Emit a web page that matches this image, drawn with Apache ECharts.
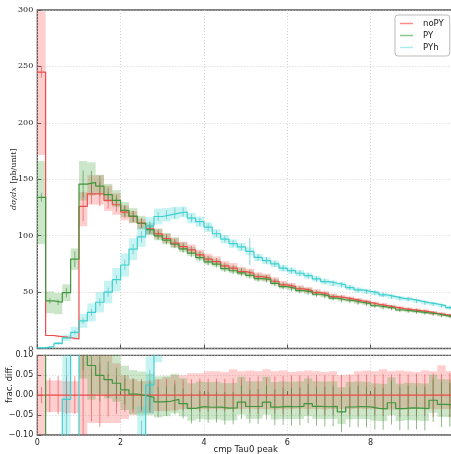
<!DOCTYPE html>
<html>
<head>
<meta charset="utf-8">
<script src="https://cdn.jsdelivr.net/npm/echarts@6/dist/echarts.min.js"></script>
<style>
  html, body { margin: 0; padding: 0; background: #fff; }
  #chart { width: 451px; height: 454px; }
</style>
</head>
<body>
<div id="chart"></div>
<script>
// Histogram of cmp Tau0 peak, 50 bins of width 0.2 starting at 0
const BIN_WIDTH = 0.2;

// Bin contents (pb/unit)
const noPY = [245, 11.5, 10.5, 9.6, 8.4, 125.9, 137.1, 137.1, 131.2, 127.4,
  120.9, 117.0, 111.1, 106.0, 101.6, 97.5, 93.4, 90.2, 87.4, 83.0,
  79.2, 77.0, 73.2, 71.2, 68.2, 66.7, 63.7, 62.3, 59.6, 56.4,
  54.9, 52.8, 51.3, 49.5, 48.1, 46.0, 45.1, 43.7, 42.2, 40.9,
  39.2, 38.0, 36.6, 35.3, 34.4, 33.6, 32.7, 31.2, 30.0, 29.1];
const PY = [134, 42.2, 41.0, 49.5, 79.2, 145.7, 147.3, 143.9, 136.3, 131.2,
  122.5, 117.3, 111.0, 105.4, 99.9, 96.0, 92.4, 88.3, 84.5, 80.6,
  76.8, 74.7, 70.8, 68.9, 67.0, 64.8, 61.9, 61.2, 57.8, 54.8,
  53.3, 51.3, 50.2, 48.1, 46.7, 44.7, 43.2, 42.4, 41.0, 39.7,
  37.9, 36.7, 35.9, 34.1, 33.3, 32.5, 31.6, 30.8, 29.3, 28.4];
const PYh = [0.5, 1.6, 4.6, 9.5, 14.3, 24.4, 32.0, 41.0, 50.0, 61.0,
  74.0, 88.0, 99.0, 108.7, 117.0, 118.5, 120.0, 121.0, 115.5, 112.4,
  107.6, 101.7, 97.0, 93.0, 90.0, 86.0, 80.7, 77.8, 75.0, 71.2,
  69.0, 66.7, 64.6, 61.7, 59.3, 57.8, 56.4, 54.0, 51.9, 50.6,
  49.3, 47.5, 46.0, 44.5, 43.7, 42.2, 40.7, 39.5, 38.0, 36.2];

// Relative systematic band (up / down) per bin
const noPYUp = [0.22, 0.037, 0.037, 0.035, 0.035, 0.10, 0.12, 0.12, 0.10, 0.08,
  0.05, 0.04, 0.035, 0.035, 0.04, 0.045, 0.05, 0.05, 0.055, 0.055,
  0.06, 0.06, 0.058, 0.065, 0.06, 0.062, 0.06, 0.065, 0.06, 0.062,
  0.058, 0.06, 0.062, 0.06, 0.058, 0.06, 0.05, 0.052, 0.06, 0.062,
  0.06, 0.065, 0.06, 0.062, 0.06, 0.058, 0.062, 0.06, 0.075, 0.06];
const noPYDn = [0.30, 0.042, 0.042, 0.045, 0.045, 0.14, 0.07, 0.07, 0.07, 0.07,
  0.06, 0.05, 0.045, 0.045, 0.04, 0.04, 0.038, 0.035, 0.035, 0.035,
  0.035, 0.035, 0.036, 0.035, 0.035, 0.034, 0.035, 0.035, 0.036, 0.035,
  0.035, 0.034, 0.035, 0.035, 0.036, 0.035, 0.035, 0.035, 0.034, 0.035,
  0.035, 0.035, 0.036, 0.035, 0.035, 0.034, 0.035, 0.035, 0.035, 0.035];
const PYUp = [0.24, 0.20, 0.20, 0.15, 0.12, 0.14, 0.12, 0.07, 0.07, 0.07,
  0.06, 0.06, 0.06, 0.06, 0.065, 0.065, 0.065, 0.065, 0.065, 0.065,
  0.065, 0.065, 0.065, 0.065, 0.065, 0.065, 0.065, 0.065, 0.065, 0.065,
  0.065, 0.065, 0.065, 0.065, 0.065, 0.065, 0.065, 0.065, 0.065, 0.065,
  0.065, 0.065, 0.065, 0.065, 0.065, 0.065, 0.065, 0.065, 0.065, 0.065];
const PYDn = [0.31, 0.26, 0.26, 0.15, 0.12, 0.10, 0.08, 0.045, 0.045, 0.045,
  0.05, 0.05, 0.05, 0.045, 0.04, 0.038, 0.035, 0.033, 0.032, 0.032,
  0.032, 0.032, 0.032, 0.032, 0.032, 0.032, 0.032, 0.032, 0.032, 0.032,
  0.032, 0.032, 0.032, 0.032, 0.032, 0.032, 0.032, 0.032, 0.032, 0.032,
  0.032, 0.032, 0.032, 0.032, 0.032, 0.032, 0.032, 0.032, 0.032, 0.032];
const PYhBand = [0.3, 0.3, 0.3, 0.3, 0.35, 0.25, 0.25, 0.22, 0.2, 0.17,
  0.14, 0.11, 0.09, 0.07, 0.06, 0.05, 0.045, 0.04, 0.04, 0.04,
  0.04, 0.04, 0.04, 0.04, 0.04, 0.04, 0.04, 0.04, 0.04, 0.04,
  0.04, 0.04, 0.04, 0.04, 0.04, 0.04, 0.04, 0.04, 0.04, 0.04,
  0.04, 0.04, 0.04, 0.04, 0.04, 0.04, 0.04, 0.04, 0.04, 0.04];

// Statistical errors (absolute, pb/unit)
const noPYStat = [5, 0.5, 0.5, 0.45, 0.4, 13, 9, 11, 7, 6,
  5, 5, 4.5, 4, 4, 4, 3.5, 3.5, 3.5, 3.5,
  3.3, 3.2, 3.0, 3.0, 3.0, 3.0, 3.0, 2.8, 2.8, 2.7,
  2.7, 2.6, 2.5, 2.5, 2.4, 2.3, 2.3, 2.2, 2.2, 2.1,
  2.0, 2.0, 1.9, 1.9, 1.8, 1.8, 1.7, 1.7, 1.6, 1.6];
const PYStat = [4, 2.5, 2.5, 4, 7, 12, 10, 9, 6, 5,
  4.5, 4.5, 4, 4, 3.8, 3.6, 3.5, 3.4, 3.3, 3.2,
  3.1, 3.0, 3.0, 2.9, 2.9, 2.8, 2.8, 2.7, 2.7, 2.6,
  2.6, 2.5, 2.5, 2.4, 2.4, 2.3, 2.3, 2.2, 2.2, 2.1,
  2.1, 2.0, 2.0, 1.9, 1.9, 1.8, 1.8, 1.7, 1.7, 1.6];
const PYhStat = [0.3, 0.5, 0.8, 1.0, 2.0, 2.5, 3.0, 3.5, 4.0, 4.0,
  4.5, 4.5, 5.0, 4.0, 4.0, 4.0, 5.0, 4.0, 3.5, 3.5,
  3.5, 3.0, 3.0, 3.0, 3.0, 12.0, 3.0, 3.0, 2.8, 2.8,
  2.7, 2.7, 2.6, 2.6, 2.5, 2.5, 2.4, 2.4, 2.3, 2.3,
  2.2, 2.2, 2.1, 2.1, 2.0, 2.0, 2.0, 1.9, 1.9, 1.8];

const SERIES = [
  { name: 'noPY', vals: noPY, up: noPYUp, dn: noPYDn, stat: noPYStat,
    line: '#ee4a4a', band: 'rgba(255,70,70,0.26)', err: 'rgba(225,70,70,0.75)', legend: '#ff8a8a' },
  { name: 'PY', vals: PY, up: PYUp, dn: PYDn, stat: PYStat,
    line: '#3f963c', band: 'rgba(70,165,60,0.28)', err: 'rgba(70,140,60,0.75)', legend: '#8cc48a' },
  { name: 'PYh', vals: PYh, up: PYhBand, dn: PYhBand, stat: PYhStat,
    line: '#3fcfcf', band: 'rgba(70,215,215,0.3)', err: 'rgba(60,190,190,0.75)', legend: '#a8ecec' }
];

const ref = noPY;

function clipBox(params) {
  const c = params.coordSys;
  return { x: c.x, y: c.y, width: c.width, height: c.height };
}

function bandRenderer(fill) {
  return function (params, api) {
    const a = api.coord([api.value(0), api.value(3)]);
    const b = api.coord([api.value(1), api.value(2)]);
    const r = echarts.graphic.clipRectByRect(
      { x: a[0], y: a[1], width: b[0] - a[0], height: b[1] - a[1] }, clipBox(params));
    return r ? { type: 'rect', shape: r, style: { fill: fill } } : null;
  };
}

function errRenderer(stroke) {
  return function (params, api) {
    const c = params.coordSys;
    const p1 = api.coord([api.value(0), api.value(1)]);
    const p2 = api.coord([api.value(0), api.value(2)]);
    let y1 = Math.min(Math.max(p1[1], c.y), c.y + c.height);
    let y2 = Math.min(Math.max(p2[1], c.y), c.y + c.height);
    if (Math.abs(y1 - y2) < 0.01) return null;
    return { type: 'line', shape: { x1: p1[0], y1: y1, x2: p2[0], y2: y2 },
      style: { stroke: stroke, lineWidth: 0.8 } };
  };
}

// Step outline through bin edges, normalised by a reference when given
function stepData(vals, divisor) {
  const out = [];
  vals.forEach((v, i) => {
    const y = divisor ? v / divisor[i] - 1 : v;
    out.push([i * BIN_WIDTH, y]);
  });
  const last = vals.length - 1;
  out.push([vals.length * BIN_WIDTH,
    divisor ? vals[last] / divisor[last] - 1 : vals[last]]);
  return out;
}

const seriesList = [];

// Main panel: bands, step outlines, error bars
SERIES.forEach(s => {
  seriesList.push({
    type: 'custom', xAxisIndex: 0, yAxisIndex: 0, z: 1, silent: true,
    renderItem: bandRenderer(s.band),
    data: s.vals.map((v, i) => [i * BIN_WIDTH, (i + 1) * BIN_WIDTH, v * (1 - s.dn[i]), v * (1 + s.up[i])])
  });
});
SERIES.forEach(s => {
  seriesList.push({
    type: 'custom', xAxisIndex: 0, yAxisIndex: 0, z: 2, silent: true,
    renderItem: errRenderer(s.err),
    data: s.vals.map((v, i) => [(i + 0.5) * BIN_WIDTH, v - s.stat[i], v + s.stat[i]])
  });
});
SERIES.forEach(s => {
  seriesList.push({
    name: s.name, type: 'line', xAxisIndex: 0, yAxisIndex: 0, z: 3,
    step: 'end', symbol: 'none', clip: true, silent: true,
    color: s.line, lineStyle: { color: s.line, width: 1.2 },
    data: stepData(s.vals, null)
  });
});

// Ratio panel: fractional difference to noPY
SERIES.forEach(s => {
  seriesList.push({
    type: 'custom', xAxisIndex: 1, yAxisIndex: 1, z: 1, silent: true,
    renderItem: bandRenderer(s.band),
    data: s.vals.map((v, i) => [i * BIN_WIDTH, (i + 1) * BIN_WIDTH,
      v * (1 - s.dn[i]) / ref[i] - 1, v * (1 + s.up[i]) / ref[i] - 1])
  });
});
SERIES.forEach(s => {
  seriesList.push({
    type: 'custom', xAxisIndex: 1, yAxisIndex: 1, z: 2, silent: true,
    renderItem: errRenderer(s.err),
    data: s.vals.map((v, i) => [(i + 0.5) * BIN_WIDTH,
      (v - s.stat[i]) / ref[i] - 1, (v + s.stat[i]) / ref[i] - 1])
  });
});
SERIES.forEach(s => {
  seriesList.push({
    name: s.name + ' ratio', type: 'line', xAxisIndex: 1, yAxisIndex: 1, z: 3,
    step: 'end', symbol: 'none', clip: true, silent: true,
    lineStyle: { color: s.line, width: 1.2 },
    data: stepData(s.vals, ref)
  });
});

const gridLine = { show: true, lineStyle: { color: '#c8c8c8', type: [1, 2], width: 0.8 } };
const frame = { show: true, borderColor: '#555', borderWidth: 1.3, backgroundColor: 'transparent',
  containLabel: false, outerBoundsMode: 'none' };
const sansTick = { fontFamily: 'DejaVu Sans', fontSize: 8, color: '#222' };

const option = {
  animation: false,
  backgroundColor: '#fff',
  grid: [
    Object.assign({ left: 37.3, top: 10, width: 416.7, height: 338.5 }, frame),
    Object.assign({ left: 37.3, top: 355.3, width: 416.7, height: 79.7 }, frame)
  ],
  xAxis: [
    { type: 'value', gridIndex: 0, min: 0, max: 10, interval: 2,
      axisLine: { show: false }, axisLabel: { show: false },
      axisTick: { show: true, inside: true, length: 4, lineStyle: { color: '#555' } },
      splitLine: gridLine },
    { type: 'value', gridIndex: 1, min: 0, max: 10, interval: 2,
      axisLine: { show: false },
      axisLabel: Object.assign({ margin: 4, showMaxLabel: false, showMinLabel: true }, sansTick),
      axisTick: { show: true, inside: true, length: 4, lineStyle: { color: '#555' } },
      splitLine: gridLine,
      name: 'cmp Tau0 peak', nameLocation: 'middle', nameGap: 10, nameMoveOverlap: false,
      nameTextStyle: { fontFamily: 'DejaVu Sans', fontSize: 8.5, color: '#222' } }
  ],
  yAxis: [
    { type: 'value', gridIndex: 0, min: 0, max: 300, interval: 50,
      axisLine: { show: false },
      axisLabel: { margin: 4, fontFamily: 'DejaVu Serif', fontSize: 8, color: '#222',
        showMinLabel: true, showMaxLabel: true },
      axisTick: { show: true, inside: true, length: 4, lineStyle: { color: '#555' } },
      splitLine: gridLine,
      name: '{i|dσ/dx} {n|[pb/unit]}', nameLocation: 'middle', nameGap: 17, nameRotate: 90,
      nameMoveOverlap: false,
      nameTextStyle: { rich: {
        i: { fontFamily: 'DejaVu Serif', fontStyle: 'italic', fontSize: 8, color: '#222' },
        n: { fontFamily: 'DejaVu Serif', fontSize: 8, color: '#222' } } } },
    { type: 'value', gridIndex: 1, min: -0.1, max: 0.1, interval: 0.05,
      axisLine: { show: false },
      axisLabel: Object.assign({ margin: 4, showMinLabel: true, showMaxLabel: true,
        formatter: v => (v < -1e-9 ? '\u2212' : '') + Math.abs(v).toFixed(2) }, sansTick),
      axisTick: { show: true, inside: true, length: 4, lineStyle: { color: '#555' } },
      splitLine: gridLine }
  ],
  legend: {
    data: SERIES.map(s => ({ name: s.name, itemStyle: { color: s.legend } })),
    orient: 'vertical', left: 395, top: 15,
    icon: 'rect', itemWidth: 13, itemHeight: 1.5, itemGap: 3,
    textStyle: { fontFamily: 'DejaVu Sans', fontSize: 8.5, color: '#222', padding: [0, 0, 0, 5] },
    backgroundColor: '#fff', borderColor: '#bbb', borderWidth: 1, borderRadius: 3,
    padding: [4, 6, 4, 5], selectedMode: false
  },
  graphic: [
    { type: 'text', x: 10, y: 384, rotation: Math.PI / 2,
      style: { text: 'frac. diff.', fontFamily: 'DejaVu Sans', fontSize: 8.5, fill: '#222',
        textAlign: 'center', textVerticalAlign: 'middle' } }
  ],
  series: seriesList
};

const chart = echarts.init(document.getElementById('chart'), null, { renderer: 'canvas' });
chart.setOption(option);
</script>
</body>
</html>
